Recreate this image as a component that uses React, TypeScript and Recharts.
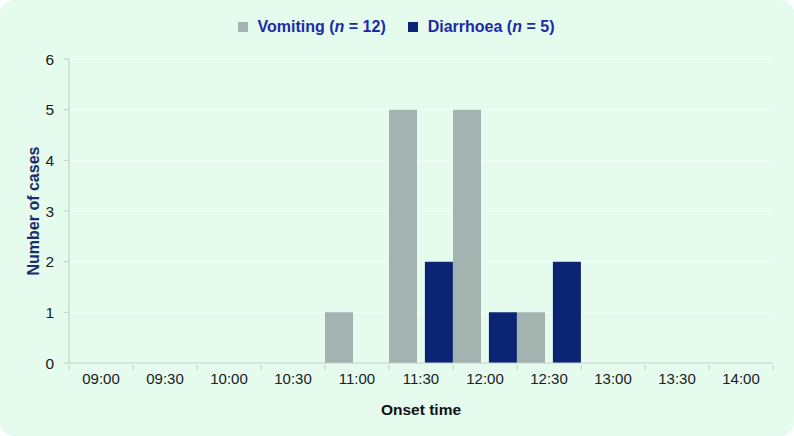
import { BarChart, Bar, XAxis, YAxis, CartesianGrid, Legend } from 'recharts'

const times = ['09:00', '09:30', '10:00', '10:30', '11:00', '11:30', '12:00', '12:30', '13:00', '13:30', '14:00']
const vomiting = [0, 0, 0, 0, 1, 5, 5, 1, 0, 0, 0]
const diarrhoea = [0, 0, 0, 0, 0, 2, 1, 2, 0, 0, 0]
const yTicks = [0, 1, 2, 3, 4, 5, 6]

const data = times.map((t, i) => ({ time: t, vomiting: vomiting[i], diarrhoea: diarrhoea[i] }))

const GREY = '#a3b3b0'
const NAVY = '#0b2473'
const AXIS = '#c3ccc8'
const FONT = '"Liberation Sans", Arial, sans-serif'

const legendItems = [
  { label: 'Vomiting', n: 12, color: GREY },
  { label: 'Diarrhoea', n: 5, color: NAVY },
]

function LegendContent() {
  return (
    <div style={{ display: 'flex', justifyContent: 'center', gap: 22, fontFamily: FONT, fontWeight: 'bold', fontSize: 16, color: '#1a2aa8', paddingRight: 10 }}>
      {legendItems.map(it => (
        <span key={it.label} style={{ display: 'flex', alignItems: 'center' }}>
          <span style={{ width: 10, height: 10, background: it.color, marginRight: 10, display: 'inline-block' }} />
          {it.label} (<i>n</i>&nbsp;= {it.n})
        </span>
      ))}
    </div>
  )
}

function TimeTick(props: any) {
  const { x, y, payload, index, visibleTicksCount } = props
  const half = payload?.offset ?? 32
  return (
    <g>
      <line x1={x - half} x2={x - half} y1={y} y2={y + 5} stroke={AXIS} />
      {index === visibleTicksCount - 1 && <line x1={x + half} x2={x + half} y1={y} y2={y + 5} stroke={AXIS} />}
      <text x={x} y={y + 19} textAnchor="middle" fontSize={15} fill="#1a1a1a" fontFamily={FONT}>{payload.value}</text>
    </g>
  )
}

export default function App() {
  return (
    <div style={{ position: 'absolute', left: 0, top: 0, width: 794, height: 436, background: '#e4fbee', borderRadius: 14, overflow: 'hidden' }}>
      <BarChart width={794} height={436} data={data} barCategoryGap={0} barGap={7.9}
        margin={{ top: 29, right: 21, left: 29, bottom: 21 }}>
        <CartesianGrid vertical={false} stroke="#f3fff8" />
        <Legend verticalAlign="top" height={30} content={<LegendContent />} wrapperStyle={{ top: 18 }} />
        <XAxis dataKey="time" height={52} axisLine={{ stroke: AXIS }} tickLine={false} tickSize={0} tick={<TimeTick />}
          interval={0}
          label={{ value: 'Onset time', position: 'insideBottom', offset: 0, fontSize: 15.5, fontWeight: 'bold', fill: '#111', fontFamily: FONT }} />
        <YAxis width={40} domain={[0, 6]} ticks={yTicks} interval={0} axisLine={{ stroke: AXIS }} tickLine={{ stroke: AXIS }}
          tickSize={5} tickMargin={10} tick={{ fontSize: 15.5, fill: '#1a1a1a', fontFamily: FONT }}
          label={{ value: 'Number of cases', angle: -90, position: 'insideLeft', offset: 4, fontSize: 16, fontWeight: 'bold', fill: '#1b2d6b', fontFamily: FONT, style: { textAnchor: 'middle' } }} />
        <Bar dataKey="vomiting" fill={GREY} barSize={28} isAnimationActive={false} />
        <Bar dataKey="diarrhoea" fill={NAVY} barSize={28} isAnimationActive={false} />
      </BarChart>
    </div>
  )
}
